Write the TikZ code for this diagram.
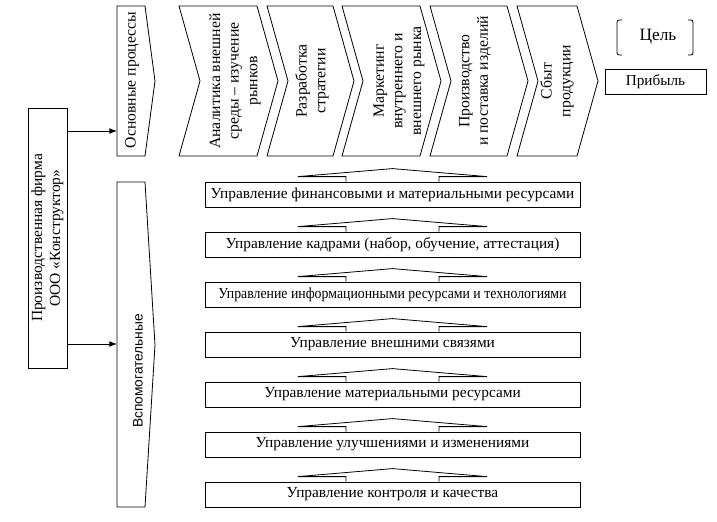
\documentclass[tikz,border=0pt]{standalone}
\usepackage{fontspec}
\setmainfont{Liberation Serif}
\setsansfont{Liberation Sans}
\usetikzlibrary{arrows.meta}

\begin{document}
\begin{tikzpicture}[
    x=0.75pt,y=-0.75pt,
    line width=0.6pt,
    >=Latex,
    vtext/.style={rotate=90,align=center,inner sep=0pt,font=\fontsize{11.8}{14}\selectfont},
    mgmt/.style={draw,minimum width=281.25pt,minimum height=18.75pt,inner sep=0pt,
      font=\fontsize{11.5}{13}\selectfont}]
  \useasboundingbox (0,0) rectangle (717,521);

  % firm
  \node[draw,rotate=90,minimum width=195pt,minimum height=29.25pt,align=center,
    inner sep=0pt,font=\fontsize{11.6}{13.5}\selectfont] (firm) at (47.5,238)
    {Производственная фирма\\ООО «Конструктор»};

  % main and auxiliary processes
  \draw (117,6) -- (145,6) -- (155,81) -- (145,156) -- (117,156) -- cycle;
  \node[vtext] (main) at (132,80) {Основные процессы};
  \draw (117,182) -- (145,182) -- (155,345) -- (145,507) -- (117,507) -- cycle;
  \node[vtext,font=\sffamily\fontsize{10.3}{12}\selectfont] (aux) at (138,371) {Вспомогательные};
  \coordinate (mainin) at (117,131);
  \coordinate (auxin) at (117,344);
  \draw[->] (firm.south |- mainin) -- (mainin);
  \draw[->] (firm.south |- auxin) -- (auxin);

  % chevrons
  \foreach \l/\w/\tx/\name/\txt in {
      179/78/235/c1/{Аналитика внешней\\среды – изучение\\рынков},
      267/66/312/c2/{Разработка\\стратегии},
      342/78/399/c3/{Маркетинг\\внутреннего и\\внешнего рынка},
      430/77/475/c4/{Производство\\и поставка изделий},
      517/60/557/c5/{Сбыт\\продукции}} {
    \draw (\l,6) -- (\l+\w,6) -- (\l+\w+21,81) -- (\l+\w,156) -- (\l,156)
      -- (\l+21,81) -- cycle;
    \node[vtext] (\name) at (\tx,81) {\txt};
  }

  % goal
  \node[font=\fontsize{13}{15}\selectfont] (goal) at (658,37) {Цель};
  \draw (622,20) .. controls (617,20) .. (617,25) -- (617,50) .. controls (617,55) .. (622,55);
  \draw (688,20) .. controls (693,20) .. (693,25) -- (693,50) .. controls (693,55) .. (688,55);
  \node[draw,minimum width=75.75pt,minimum height=18.75pt,inner sep=0pt,
    font=\fontsize{11.4}{13}\selectfont] (profit) at (655.5,81.5) {Прибыль};

  % support functions
  \node[mgmt] (m1) at (392.5,194.5) {Управление финансовыми и материальными ресурсами};
  \node[mgmt] (m2) at (392.5,244.5) {Управление кадрами (набор, обучение, аттестация)};
  \node[mgmt,font=\fontsize{11.5}{13}\selectfont\addfontfeature{FakeStretch=0.9}] (m3)
    at (392.5,294.5) {Управление информационными ресурсами и технологиями};
  \node[mgmt] (m4) at (392.5,344.5) {Управление внешними связями};
  \node[mgmt] (m5) at (392.5,394.5) {Управление материальными ресурсами};
  \node[mgmt] (m6) at (392.5,444.5) {Управление улучшениями и изменениями};
  \node[mgmt] (m7) at (392.5,494.5) {Управление контроля и качества};
  \foreach \i in {1,...,7} {
    \begin{scope}[shift={(m\i.north)}]
      \draw (-46.5,0) -- (-46.5,-5) -- (-94.5,-5) -- (0,-13) -- (94.5,-5)
        -- (46.5,-5) -- (46.5,0);
    \end{scope}
  }
\end{tikzpicture}
\end{document}
